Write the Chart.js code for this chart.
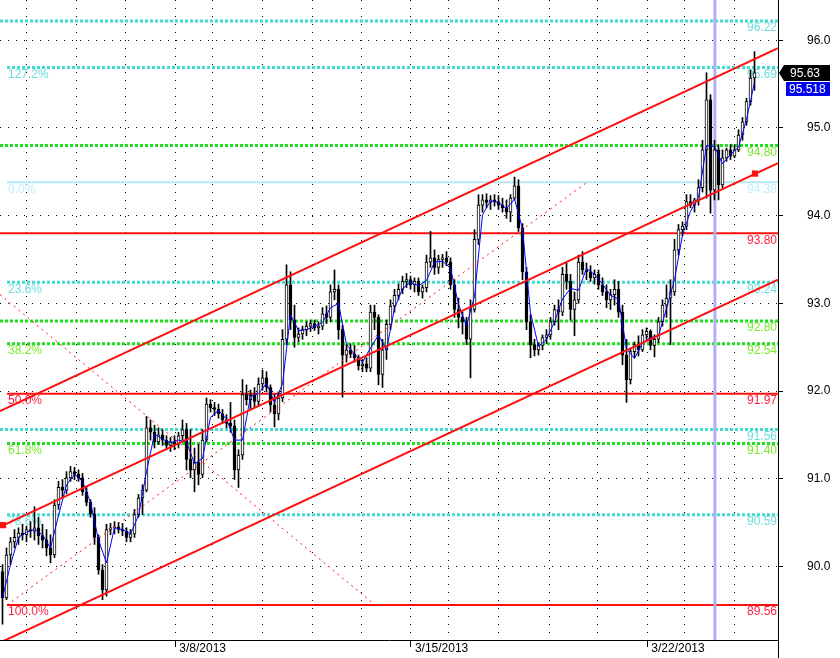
<!DOCTYPE html>
<html>
<head>
<meta charset="utf-8">
<script src="https://cdn.jsdelivr.net/npm/chart.js@4.4.1/dist/chart.umd.min.js"></script>
<style>
  html, body { margin: 0; padding: 0; background: #fff; }
  #wrap { width: 840px; height: 658px; }
</style>
</head>
<body>
<div id="wrap"><canvas id="chart" width="840" height="658"></canvas></div>
<script>
// bars (one bar every ~4px)
const opens = [89.94, 89.64, 90.13, 90.28, 90.33, 90.38, 90.36, 90.42, 90.40, 90.44, 90.35, 90.30, 90.21, 90.13, 90.70, 90.90, 90.87, 91.01, 91.08, 91.05,
  91.01, 90.85, 90.73, 90.60, 90.33, 89.96, 89.73, 90.42, 90.44, 90.45, 90.42, 90.40, 90.33, 90.37, 90.59, 90.78, 90.87, 91.58, 91.53, 91.42,
  91.50, 91.44, 91.38, 91.42, 91.40, 91.49, 91.56, 91.22, 91.10, 91.19, 91.05, 91.44, 91.85, 91.81, 91.79, 91.74, 91.67, 91.63, 91.60, 91.10,
  91.27, 91.96, 91.90, 91.95, 91.88, 92.08, 92.15, 92.04, 91.84, 91.74, 91.92, 92.59, 93.21, 92.81, 92.61, 92.65, 92.70, 92.74, 92.77, 92.72,
  92.74, 92.88, 92.84, 93.13, 93.16, 92.70, 92.41, 92.47, 92.42, 92.38, 92.29, 92.31, 92.26, 92.90, 92.84, 92.19, 92.47, 92.76, 92.97, 93.09,
  93.16, 93.25, 93.27, 93.21, 93.25, 93.13, 93.18, 93.47, 93.52, 93.41, 93.50, 93.52, 93.47, 93.21, 92.93, 92.84, 92.79, 92.59, 92.93, 93.73,
  94.12, 94.18, 94.15, 94.18, 94.16, 94.12, 94.09, 94.04, 94.20, 94.34, 93.86, 93.36, 92.79, 92.53, 92.47, 92.52, 92.61, 92.64, 92.79, 92.93,
  92.90, 93.33, 93.25, 92.93, 93.04, 93.47, 93.38, 93.36, 93.29, 93.33, 93.21, 93.13, 93.04, 93.10, 93.16, 92.90, 92.41, 92.13, 92.45, 92.53,
  92.47, 92.64, 92.68, 92.52, 92.59, 92.79, 92.98, 93.06, 93.13, 93.61, 93.84, 93.88, 94.16, 94.12, 94.18, 94.32, 94.75, 95.32, 94.29, 94.75,
  94.35, 94.66, 94.75, 94.68, 94.75, 94.92, 95.07, 95.30, 95.57];
const highs = [90.02, 90.21, 90.33, 90.42, 90.44, 90.48, 90.46, 90.51, 90.68, 90.56, 90.48, 90.42, 90.36, 90.76, 90.97, 90.99, 91.08, 91.14, 91.13, 91.10,
  91.06, 90.90, 90.76, 90.67, 90.36, 90.02, 90.48, 90.49, 90.51, 90.50, 90.49, 90.44, 90.42, 90.65, 90.82, 90.93, 91.71, 91.67, 91.61, 91.58,
  91.56, 91.49, 91.47, 91.49, 91.53, 91.67, 91.63, 91.56, 91.35, 91.39, 91.56, 91.92, 91.90, 91.87, 91.85, 91.79, 91.73, 91.87, 91.67, 91.33,
  92.13, 92.07, 92.01, 92.04, 92.15, 92.24, 92.22, 92.07, 91.96, 91.99, 92.70, 93.44, 93.36, 92.98, 92.72, 92.74, 92.79, 92.81, 92.81, 92.79,
  92.95, 92.97, 93.21, 93.38, 93.21, 92.75, 92.53, 92.54, 92.52, 92.41, 92.36, 92.38, 92.98, 92.98, 92.87, 92.59, 92.81, 93.04, 93.16, 93.22,
  93.31, 93.34, 93.31, 93.29, 93.29, 93.21, 93.55, 93.82, 93.61, 93.55, 93.56, 93.59, 93.52, 93.27, 93.06, 92.90, 92.84, 93.04, 93.84, 94.24,
  94.24, 94.25, 94.23, 94.24, 94.23, 94.20, 94.18, 94.24, 94.44, 94.41, 93.91, 93.41, 92.87, 92.59, 92.55, 92.64, 92.70, 92.84, 92.98, 93.04,
  93.41, 93.46, 93.33, 93.13, 93.55, 93.59, 93.46, 93.43, 93.38, 93.38, 93.29, 93.21, 93.16, 93.27, 93.25, 92.98, 92.59, 92.49, 92.56, 92.63,
  92.70, 92.72, 92.70, 92.64, 92.84, 93.04, 93.21, 93.27, 93.73, 93.90, 93.93, 94.24, 94.24, 94.20, 94.41, 94.86, 95.63, 95.38, 94.86, 94.81,
  94.75, 94.77, 94.81, 94.80, 94.98, 95.12, 95.34, 95.66, 95.87];
const lows = [89.34, 89.62, 90.02, 90.21, 90.25, 90.30, 90.28, 90.33, 90.30, 90.25, 90.21, 90.12, 90.04, 90.10, 90.65, 90.78, 90.83, 90.97, 90.99, 90.97,
  90.81, 90.69, 90.56, 90.25, 89.91, 89.62, 89.66, 90.36, 90.37, 90.38, 90.35, 90.28, 90.28, 90.33, 90.56, 90.59, 90.85, 91.44, 91.35, 91.39,
  91.38, 91.33, 91.31, 91.33, 91.35, 91.44, 91.10, 91.01, 90.85, 90.93, 91.01, 91.42, 91.76, 91.72, 91.69, 91.63, 91.58, 91.53, 90.99, 90.90,
  91.22, 91.84, 91.79, 91.81, 91.84, 92.01, 91.99, 91.76, 91.59, 91.67, 91.88, 92.53, 92.70, 92.50, 92.56, 92.59, 92.63, 92.68, 92.69, 92.65,
  92.70, 92.77, 92.79, 93.04, 92.59, 91.93, 92.33, 92.38, 92.33, 92.24, 92.22, 92.22, 92.22, 92.70, 92.07, 92.04, 92.36, 92.70, 92.90, 93.04,
  93.11, 93.18, 93.16, 93.13, 93.09, 93.06, 93.13, 93.41, 93.33, 93.34, 93.41, 93.43, 93.16, 92.84, 92.72, 92.65, 92.53, 92.15, 92.90, 93.67,
  94.04, 94.09, 94.07, 94.11, 94.07, 94.04, 93.97, 93.93, 94.18, 93.82, 93.27, 92.70, 92.38, 92.40, 92.41, 92.47, 92.54, 92.59, 92.75, 92.70,
  92.86, 93.16, 92.81, 92.63, 93.00, 93.33, 93.27, 93.25, 93.22, 93.16, 93.09, 92.95, 92.93, 92.98, 92.84, 92.30, 91.87, 92.08, 92.38, 92.40,
  92.45, 92.59, 92.47, 92.39, 92.55, 92.74, 92.84, 92.53, 93.09, 93.55, 93.77, 93.84, 94.09, 94.04, 94.12, 94.27, 94.20, 94.03, 94.18, 94.18,
  94.32, 94.62, 94.64, 94.66, 94.73, 94.86, 95.03, 95.26, 95.43];
const closes = [89.64, 90.13, 90.28, 90.33, 90.38, 90.36, 90.42, 90.40, 90.44, 90.35, 90.30, 90.21, 90.13, 90.70, 90.90, 90.87, 91.01, 91.08, 91.05, 91.01,
  90.85, 90.73, 90.60, 90.33, 89.96, 89.73, 90.42, 90.44, 90.45, 90.42, 90.40, 90.33, 90.37, 90.59, 90.78, 90.87, 91.58, 91.53, 91.42, 91.50,
  91.44, 91.38, 91.42, 91.40, 91.49, 91.56, 91.22, 91.10, 91.19, 91.05, 91.44, 91.85, 91.81, 91.79, 91.74, 91.67, 91.63, 91.60, 91.10, 91.27,
  91.96, 91.90, 91.95, 91.88, 92.08, 92.15, 92.04, 91.84, 91.74, 91.92, 92.59, 93.21, 92.81, 92.61, 92.65, 92.70, 92.74, 92.77, 92.72, 92.74,
  92.88, 92.84, 93.13, 93.16, 92.70, 92.41, 92.47, 92.42, 92.38, 92.29, 92.31, 92.26, 92.90, 92.84, 92.19, 92.47, 92.76, 92.97, 93.09, 93.16,
  93.25, 93.27, 93.21, 93.25, 93.13, 93.18, 93.47, 93.52, 93.41, 93.50, 93.52, 93.47, 93.21, 92.93, 92.84, 92.79, 92.59, 92.93, 93.73, 94.12,
  94.18, 94.15, 94.18, 94.16, 94.12, 94.09, 94.04, 94.20, 94.34, 93.86, 93.36, 92.79, 92.53, 92.47, 92.52, 92.61, 92.64, 92.79, 92.93, 92.90,
  93.33, 93.25, 92.93, 93.04, 93.47, 93.38, 93.36, 93.29, 93.33, 93.21, 93.13, 93.04, 93.10, 93.16, 92.90, 92.41, 92.13, 92.45, 92.53, 92.47,
  92.64, 92.68, 92.52, 92.59, 92.79, 92.98, 93.06, 93.13, 93.61, 93.84, 93.88, 94.16, 94.12, 94.18, 94.32, 94.75, 95.32, 94.29, 94.75, 94.35,
  94.66, 94.75, 94.68, 94.75, 94.92, 95.07, 95.30, 95.57, 95.63];
// blue average line, read every second bar
const maEven = [89.64, 90.02, 90.33, 90.39, 90.42, 90.36, 90.21, 90.58, 90.93, 91.05, 90.97, 90.73, 90.30, 90.04, 90.44, 90.42, 90.37, 90.58, 91.08, 91.51,
  91.45, 91.41, 91.44, 91.42, 91.17, 91.23, 91.70, 91.78, 91.68, 91.44, 91.44, 91.94, 91.97, 92.09, 91.87, 92.08, 92.87, 92.69, 92.70, 92.74,
  92.78, 92.95, 93.00, 92.53, 92.42, 92.33, 92.49, 92.64, 92.47, 92.94, 93.17, 93.24, 93.20, 93.26, 93.47, 93.48, 93.40, 92.99, 92.74, 93.08,
  94.01, 94.17, 94.15, 94.08, 94.19, 93.85, 92.89, 92.51, 92.59, 92.79, 93.05, 93.17, 93.15, 93.40, 93.33, 93.22, 93.09, 93.05, 92.48, 92.37,
  92.55, 92.61, 92.63, 92.94, 93.27, 93.78, 94.05, 94.21, 94.80, 94.79, 94.59, 94.70, 94.78, 95.10, 95.52];
const maTag = 95.518;

// axes
const xMin = -0.625, xMax = 193.875;
const yMin = 89.16, yMax = 96.46;
const priceTicks = [90, 91, 92, 93, 94, 95, 96];
const dayTicks = [6.05, 18.55, 30.8, 43.2, 52.45, 64.95, 77.55, 89.8, 102.1, 111.45, 123.95, 136.7, 148.7, 161.2, 170.6, 182.95];
const dateTicks = [43.2, 102.1, 161.2];
const dateLabels = ['3/8/2013', '3/15/2013', '3/22/2013'];

// drawing tools
const fibValues = [95.69, 94.38, 93.24, 92.54, 91.97, 91.40, 90.59, 89.56];
const fibNames = ['127.2%', '0.0%', '23.6%', '38.2%', '50.0%', '61.8%', '78.6%', '100.0%'];
const cyanLevels = [96.22, 95.69, 93.24, 91.56, 90.59];
const greenLevels = [94.80, 92.80, 92.54, 91.40];
const redLevels = [93.80, 91.97, 89.56];
const baseLevels = [94.38];
const fibStart = 1.125;
const cursorBar = 178.1;
const channelUpper = [91.77, 95.91];
const channelMid = [90.45, 94.60];
const channelLower = [89.13, 93.27];
const channelAnchors = [[0.125, 90.47], [188.125, 94.48]];
const fibTrend = [[1.125, 89.56], [146.125, 94.38]];
const fanLine = [[xMin, 93.10], [93.125, 89.56]];

const FONT = '"Liberation Sans", Arial, sans-serif';
Chart.defaults.font.family = FONT;
Chart.defaults.font.size = 12;

const CYAN = '#40dcd0', GREEN = '#1ee01e', RED = '#ff1010', BASE = '#b4e8f6';
const textColors = { cyan: '#70dcdc', green: '#7ee830', red: '#ff2040', base: '#bdeefa' };

const levelGroups = [
  { vals: cyanLevels, color: CYAN, width: 3, dash: [3, 2], text: textColors.cyan },
  { vals: greenLevels, color: GREEN, width: 3, dash: [3, 2], text: textColors.green },
  { vals: redLevels, color: RED, width: 2, dash: [], text: textColors.red },
  { vals: baseLevels, color: BASE, width: 2, dash: [], text: textColors.base }
];

const datasets = [];

levelGroups.forEach(g => g.vals.forEach(v => {
  datasets.push({
    type: 'line',
    data: [{ x: fibValues.includes(v) ? fibStart : xMin, y: v }, { x: xMax, y: v }],
    borderColor: g.color, borderWidth: g.width, borderDash: g.dash,
    pointRadius: 0, order: 20
  });
}));

datasets.push({
  type: 'line',
  data: [{ x: cursorBar, y: yMin }, { x: cursorBar, y: yMax }],
  borderColor: '#b0b0f6', borderWidth: 3, pointRadius: 0, order: 15
});

datasets.push({
  type: 'bar',
  data: closes.map((c, i) => ({ x: i, y: [lows[i], highs[i]] })),
  backgroundColor: '#000', borderWidth: 0, barThickness: 1, grouped: false, order: 10
});

datasets.push({
  type: 'bar',
  data: closes.map((c, i) => ({ x: i, y: [opens[i], c] })),
  backgroundColor: ctx => closes[ctx.dataIndex] >= opens[ctx.dataIndex] ? '#fff' : '#000',
  borderColor: '#000', borderWidth: 1, borderSkipped: false, minBarLength: 1,
  barThickness: 3, grouped: false, order: 9
});

datasets.push({
  type: 'line',
  data: maEven.map((v, k) => ({ x: 2 * k, y: v })),
  borderColor: '#0000ff', borderWidth: 1, pointRadius: 0, order: 8
});

[fibTrend, fanLine].forEach(seg => datasets.push({
  type: 'line',
  data: seg.map(p => ({ x: p[0], y: p[1] })),
  borderColor: RED, borderWidth: 1, borderDash: [2, 4], pointRadius: 0, order: 5
}));

[channelUpper, channelMid, channelLower].forEach(ch => datasets.push({
  type: 'line',
  data: [{ x: xMin, y: ch[0] }, { x: xMax, y: ch[1] }],
  borderColor: RED, borderWidth: 2, pointRadius: 0, order: 3
}));

datasets.push({
  type: 'line',
  data: channelAnchors.map(p => ({ x: p[0], y: p[1] })),
  showLine: false, pointStyle: 'rect', pointRadius: 4.4,
  pointBackgroundColor: RED, pointBorderWidth: 0, order: 2
});

const levelLabels = {
  id: 'levelLabels',
  beforeDatasetsDraw(chart) {
    const { ctx, chartArea, scales: { x, y } } = chart;
    ctx.save();
    ctx.font = '12px ' + FONT;
    ctx.textBaseline = 'top';
    levelGroups.forEach(g => g.vals.forEach(v => {
      const py = y.getPixelForValue(v);
      ctx.fillStyle = g.text;
      ctx.textAlign = 'right';
      ctx.fillText(v.toFixed(2), chartArea.right - 1, py + 1);
      const k = fibValues.indexOf(v);
      if (k >= 0) {
        ctx.textAlign = 'left';
        ctx.fillText(fibNames[k], x.getPixelForValue(fibStart) + 1, py + 1);
      }
    }));
    ctx.restore();
  }
};

const priceTags = {
  id: 'priceTags',
  afterDraw(chart) {
    const { ctx, chartArea, scales: { y } } = chart;
    const last = closes[closes.length - 1];
    const py = Math.round(y.getPixelForValue(last));
    const x0 = chartArea.right;
    ctx.save();
    // axis line runs to the bottom edge
    ctx.strokeStyle = '#000';
    ctx.lineWidth = 1;
    ctx.beginPath();
    ctx.moveTo(x0 + 0.5, chartArea.bottom);
    ctx.lineTo(x0 + 0.5, chart.height);
    ctx.stroke();

    ctx.fillStyle = '#000';
    ctx.beginPath();
    ctx.moveTo(x0 + 1, py);
    ctx.lineTo(x0 + 6, py - 8);
    ctx.lineTo(x0 + 52, py - 8);
    ctx.lineTo(x0 + 52, py + 8);
    ctx.lineTo(x0 + 6, py + 8);
    ctx.closePath();
    ctx.fill();
    ctx.font = '12px ' + FONT;
    ctx.textBaseline = 'middle';
    ctx.textAlign = 'left';
    ctx.fillStyle = '#fff';
    ctx.fillText(last.toFixed(2), x0 + 12, py + 1);

    ctx.fillStyle = '#0000f0';
    ctx.fillRect(x0 + 8, py + 9, 44, 14);
    ctx.fillStyle = '#fff';
    ctx.fillText(maTag.toFixed(3), x0 + 11, py + 16.5);
    ctx.restore();
  }
};

const isDate = v => dateTicks.some(d => Math.abs(d - v) < 0.01);

new Chart(document.getElementById('chart'), {
  type: 'line',
  data: { datasets },
  options: {
    responsive: false,
    animation: false,
    events: [],
    layout: { padding: 0, autoPadding: false },
    plugins: { legend: { display: false }, tooltip: { enabled: false } },
    scales: {
      x: {
        type: 'linear', min: xMin, max: xMax, offset: false,
        afterBuildTicks: s => { s.ticks = dayTicks.map(v => ({ value: v })); },
        afterFit: s => { s.height = 18; s.paddingLeft = 0; s.paddingRight = 0; },
        grid: {
          color: '#000', lineWidth: 1, offset: false, drawTicks: true, tickLength: 7,
          tickColor: c => (c.tick && isDate(c.tick.value)) ? '#000' : 'rgba(0,0,0,0)'
        },
        border: { color: '#000', width: 1, dash: [1, 7] },
        ticks: {
          autoSkip: false, maxRotation: 0, align: 'start', labelOffset: 4, padding: -6,
          color: '#000', font: { size: 12 },
          callback: v => { const k = dateTicks.findIndex(d => Math.abs(d - v) < 0.01); return k >= 0 ? dateLabels[k] : ''; }
        }
      },
      y: {
        type: 'linear', position: 'right', min: yMin, max: yMax,
        afterBuildTicks: s => { s.ticks = priceTicks.map(v => ({ value: v })); },
        afterFit: s => { s.width = 62; s.paddingTop = 0; s.paddingBottom = 0; },
        grid: { color: '#000', lineWidth: 1, tickLength: 5, tickColor: '#000' },
        border: { color: '#000', width: 1, dash: [1, 7] },
        ticks: { padding: 24, color: '#000', font: { size: 12 }, callback: v => v.toFixed(1) }
      }
    }
  },
  plugins: [levelLabels, priceTags]
});
</script>
</body>
</html>
